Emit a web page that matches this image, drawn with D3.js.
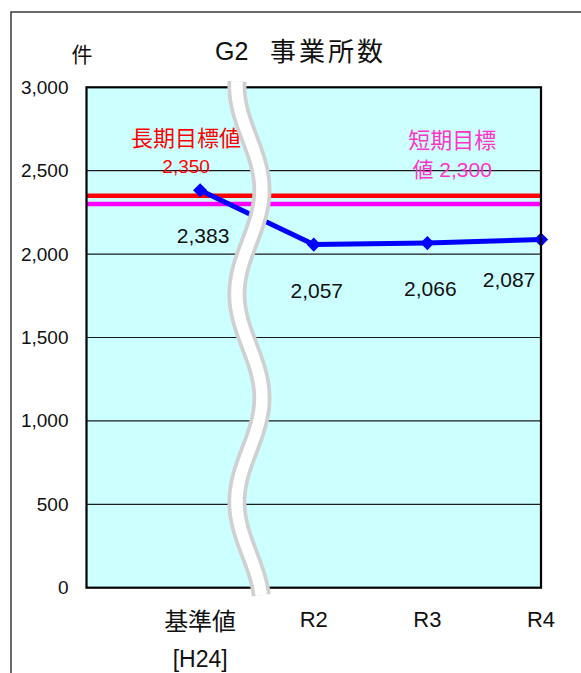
<!DOCTYPE html>
<html>
<head>
<meta charset="utf-8">
<script src="https://cdn.jsdelivr.net/npm/d3@7"></script>
<style>
  html, body { margin: 0; padding: 0; background: #fff; }
  svg { display: block; }
</style>
</head>
<body>
<svg id="chart" width="581" height="673"></svg>
<script>
// ---- data ----
const categories = ["基準値", "R2", "R3", "R4"];
const categorySub = ["[H24]", "", "", ""];
const values = [2383, 2057, 2066, 2087];
const longTermTarget = 2350;
const shortTermTarget = 2300;
const longTermLabel = ["長期目標値", "2,350"];
const shortTermLabel = ["短期目標", "値 2,300"];
const yTicks = [0, 500, 1000, 1500, 2000, 2500, 3000];
const titleParts = ["G2", "事業所数"];
const unitLabel = "件";

// ---- layout ----
const W = 581, H = 673;
const plot = { left: 86.5, right: 541, top: 87.3, bottom: 587.7 };
const NUM = "'Liberation Sans', Arial, 'Noto Sans CJK JP', sans-serif";
const JP = "'Noto Sans CJK JP', 'Liberation Sans', sans-serif";

const svg = d3.select("#chart");

// outer frame
svg.append("rect").attr("x", 11).attr("y", 12).attr("width", 620).attr("height", 700)
  .attr("fill", "#fff").attr("stroke", "#3a3a3a").attr("stroke-width", 1.5);

const x = d3.scalePoint().domain(["", ...categories]).range([plot.left, plot.right]);
const y = d3.scaleLinear().domain([0, 3000]).range([plot.bottom, plot.top]);

// plot background
svg.append("rect").attr("x", plot.left).attr("y", plot.top)
  .attr("width", plot.right - plot.left).attr("height", plot.bottom - plot.top)
  .attr("fill", "#CCFFFF");

// gridlines
svg.append("g").selectAll("line").data(yTicks.filter(d => d > 0 && d < 3000)).join("line")
  .attr("x1", plot.left).attr("x2", plot.right)
  .attr("y1", d => y(d)).attr("y2", d => y(d))
  .attr("stroke", "#1c1c1c").attr("stroke-width", 1.2);

// y axis
const yAxis = svg.append("g").attr("transform", `translate(${plot.left},0)`)
  .call(d3.axisLeft(y).tickValues(yTicks).tickFormat(d3.format(",")).tickSize(0).tickPadding(18));
yAxis.select(".domain").remove();
yAxis.selectAll("text").attr("font-family", NUM).attr("font-size", 19).attr("fill", "#111");

// target lines
svg.append("line").attr("x1", plot.left).attr("x2", plot.right)
  .attr("y1", y(longTermTarget)).attr("y2", y(longTermTarget))
  .attr("stroke", "#FF0000").attr("stroke-width", 4.5);
svg.append("line").attr("x1", plot.left).attr("x2", plot.right)
  .attr("y1", y(shortTermTarget)).attr("y2", y(shortTermTarget))
  .attr("stroke", "#FF00FF").attr("stroke-width", 4.5);

// target labels
const ltx = x(categories[0]) - 14;
svg.append("text").attr("x", ltx).attr("y", y(longTermTarget) - 50)
  .attr("text-anchor", "middle").attr("font-family", JP).attr("font-size", 22)
  .attr("fill", "#FF0000").text(longTermLabel[0]);
svg.append("text").attr("x", ltx).attr("y", y(longTermTarget) - 23)
  .attr("text-anchor", "middle").attr("font-family", NUM).attr("font-size", 19)
  .attr("fill", "#FF0000").text(longTermLabel[1]);
const stx = (x(categories[2]) + x(categories[3])) / 2 - 32;
svg.append("text").attr("x", stx).attr("y", y(shortTermTarget) - 56)
  .attr("text-anchor", "middle").attr("font-family", JP).attr("font-size", 22)
  .attr("fill", "#FF33CC").text(shortTermLabel[0]);
svg.append("text").attr("x", stx).attr("y", y(shortTermTarget) - 27)
  .attr("text-anchor", "middle").attr("font-family", NUM).attr("font-size", 21)
  .attr("fill", "#FF33CC").text(shortTermLabel[1]);

// data line
const pts = categories.map((c, i) => [x(c), y(values[i])]);
svg.append("path").attr("d", d3.line()(pts))
  .attr("fill", "none").attr("stroke", "#0000FF").attr("stroke-width", 5);
svg.append("g").selectAll("path").data(pts).join("path")
  .attr("d", d3.symbol(d3.symbolSquare, 100))
  .attr("transform", d => `translate(${d[0]},${d[1]}) rotate(45)`)
  .attr("fill", "#0000FF");

// data labels
const fmt = d3.format(",");
svg.append("g").selectAll("text").data(values).join("text")
  .attr("x", (d, i) => Math.min(x(categories[i]) + 3, plot.right - 32))
  .attr("y", (d, i) => y(d) + (i === 3 ? 47 : 53))
  .attr("text-anchor", "middle").attr("font-family", NUM).attr("font-size", 21)
  .attr("fill", "#111").text(d => fmt(d));

// plot border
svg.append("rect").attr("x", plot.left).attr("y", plot.top)
  .attr("width", plot.right - plot.left).attr("height", plot.bottom - plot.top)
  .attr("fill", "none").attr("stroke", "#000").attr("stroke-width", 2.2);

// axis break (decorative wave between 基準値 and R2)
const bx = (x(categories[0]) + x(categories[1])) / 2 - 7.5;
const wave = d3.range(y(3000) - 6, y(0) + 9.5, 2).map(v => [bx + 12.5 * Math.sin(2 * Math.PI * (v - 138) / 208), v]);
const waveLine = d3.line().curve(d3.curveBasis);
svg.append("path").attr("d", waveLine(wave)).attr("fill", "none")
  .attr("stroke", "#D0D0D0").attr("stroke-width", 19);
svg.append("path").attr("d", waveLine(wave.slice(0))).attr("fill", "none")
  .attr("stroke", "#FFFFFF").attr("stroke-width", 11.5);

// x axis labels
const xg = svg.append("g");
categories.forEach((c, i) => {
  const isJP = /[^\x00-\x7F]/.test(c);
  xg.append("text").attr("x", x(c)).attr("y", isJP ? 630 : 627)
    .attr("text-anchor", "middle").attr("font-family", isJP ? JP : NUM)
    .attr("font-size", isJP ? 24 : 22).attr("fill", "#111").text(c);
  if (categorySub[i]) {
    xg.append("text").attr("x", x(c)).attr("y", 667)
      .attr("text-anchor", "middle").attr("font-family", NUM)
      .attr("font-size", 23).attr("fill", "#111").text(categorySub[i]);
  }
});

// title & unit
svg.append("text").attr("x", 215).attr("y", 60).attr("font-family", NUM)
  .attr("font-size", 25).attr("fill", "#111").text(titleParts[0]);
svg.append("text").attr("x", 270).attr("y", 61).attr("font-family", JP)
  .attr("font-size", 26).attr("letter-spacing", 3).attr("fill", "#111").text(titleParts[1]);
svg.append("text").attr("x", 82).attr("y", 62).attr("text-anchor", "middle")
  .attr("font-family", JP).attr("font-size", 21).attr("fill", "#111").text(unitLabel);
</script>
</body>
</html>
